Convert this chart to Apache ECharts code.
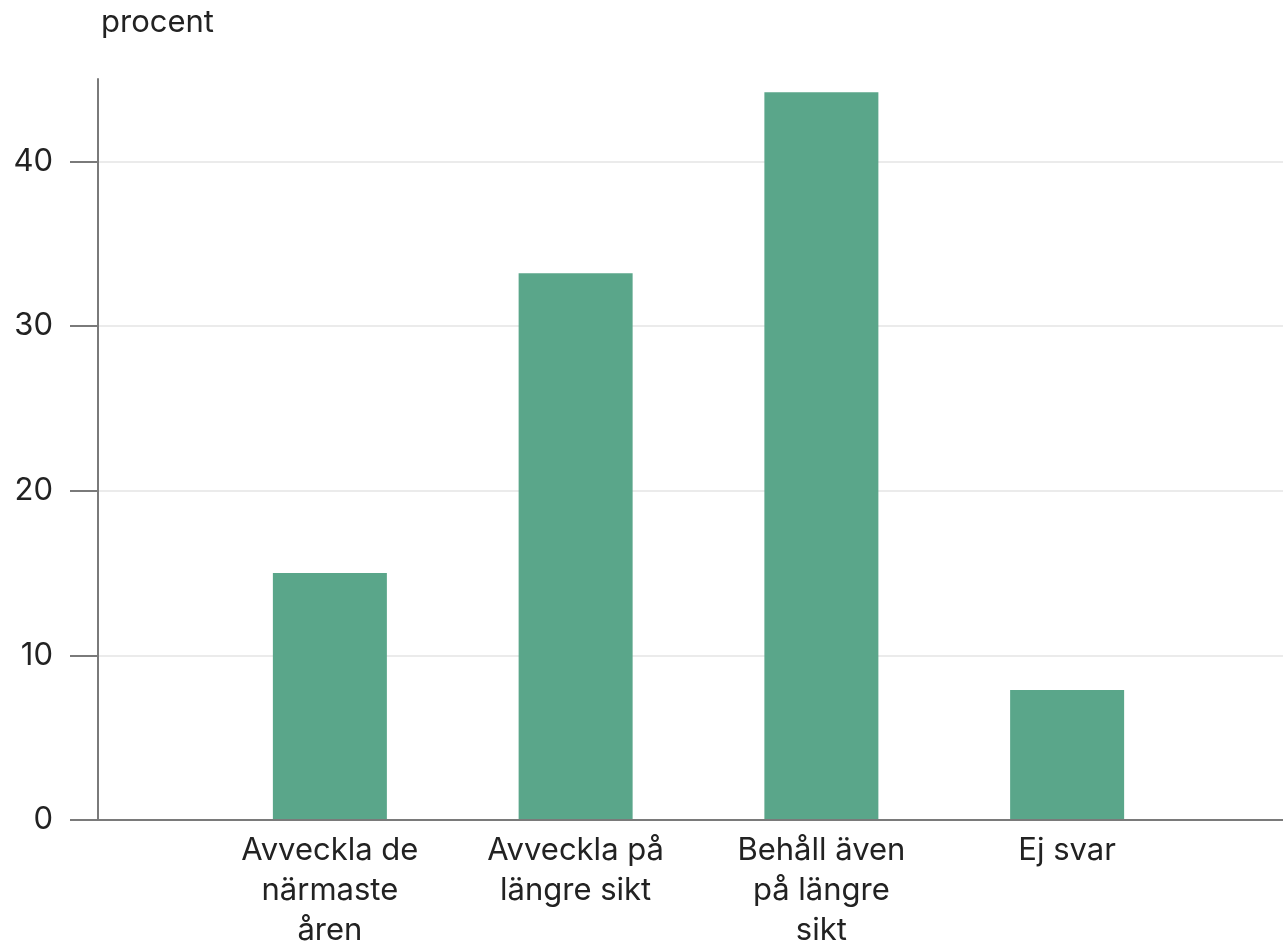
<!DOCTYPE html>
<html><head><meta charset="utf-8">
<script src="https://cdn.jsdelivr.net/npm/echarts@6/dist/echarts.min.js"></script>
<style>html,body{margin:0;padding:0;background:#fff}#c{width:1283px;height:943px}</style>
</head><body><div id="c"></div>
<script>
const categories = ['Avveckla de\nnärmaste\nåren', 'Avveckla på\nlängre sikt', 'Behåll även\npå längre\nsikt', 'Ej svar'];
const values = [15.0, 33.2, 44.2, 7.9];
const yTickMax = 40;
const yAxisMax = 45;
const yInterval = 10;
const yTitle = 'procent';

const FONT = 'Inter';
const FS = 31;
const TXT = '#222';
const AX = '#7a7a7a';
const TOP = 79, BOTTOM = 123, H = 943;
const plotH = H - TOP - BOTTOM;
const tickTop = H - BOTTOM - plotH * yTickMax / yAxisMax;
const NB = {outerBoundsMode: 'none', containLabel: false};

const chart = echarts.init(document.getElementById('c'));
chart.setOption({
  animation: false,
  textStyle: {fontFamily: FONT},
  title: {text: yTitle, left: 96, top: 2, textStyle: {fontFamily: FONT, fontSize: FS, fontWeight: 'normal', color: TXT}},
  grid: [
    Object.assign({left: 98, right: 0, top: TOP, bottom: BOTTOM}, NB),
    Object.assign({left: 98, right: 0, top: tickTop, bottom: BOTTOM}, NB),
    Object.assign({left: 207, right: 93, top: TOP, bottom: BOTTOM}, NB),
    Object.assign({left: 70, width: 28, top: tickTop, bottom: BOTTOM}, NB)
  ],
  xAxis: [
    {gridIndex: 0, type: 'value', min: 0, max: 1, z: 10,
     axisLine: {show: true, onZero: false, lineStyle: {color: AX, width: 2}},
     axisTick: {show: false}, axisLabel: {show: false}, splitLine: {show: false}},
    {gridIndex: 1, type: 'value', min: 0, max: 1, show: false},
    {gridIndex: 2, type: 'category', data: categories, axisLine: {show: false}, axisTick: {show: false},
     axisLabel: {fontFamily: FONT, fontSize: FS, lineHeight: 40, color: TXT, margin: 11, interval: 0}},
    {gridIndex: 3, type: 'value', min: 0, max: 1, show: false}
  ],
  yAxis: [
    {gridIndex: 0, type: 'value', min: 0, max: yAxisMax, z: 10,
     axisLine: {show: true, lineStyle: {color: AX, width: 2}},
     axisTick: {show: false}, axisLabel: {show: false}, splitLine: {show: false}},
    {gridIndex: 1, type: 'value', min: 0, max: yTickMax, interval: yInterval,
     axisLine: {show: false}, axisTick: {show: false},
     axisLabel: {fontFamily: FONT, fontSize: FS, color: TXT, margin: 45},
     splitLine: {show: true, lineStyle: {color: '#ebebeb', width: 2}}},
    {gridIndex: 2, type: 'value', min: 0, max: yAxisMax, show: false},
    {gridIndex: 3, type: 'value', min: 0, max: yTickMax, interval: yInterval, z: 10,
     axisLine: {show: false}, axisTick: {show: false}, axisLabel: {show: false},
     splitLine: {show: true, lineStyle: {color: AX, width: 2}}}
  ],
  series: [{
    type: 'bar', xAxisIndex: 2, yAxisIndex: 2, data: values, barWidth: 114, z: 5,
    itemStyle: {color: '#5aa68a'}
  }]
});
</script></body></html>
